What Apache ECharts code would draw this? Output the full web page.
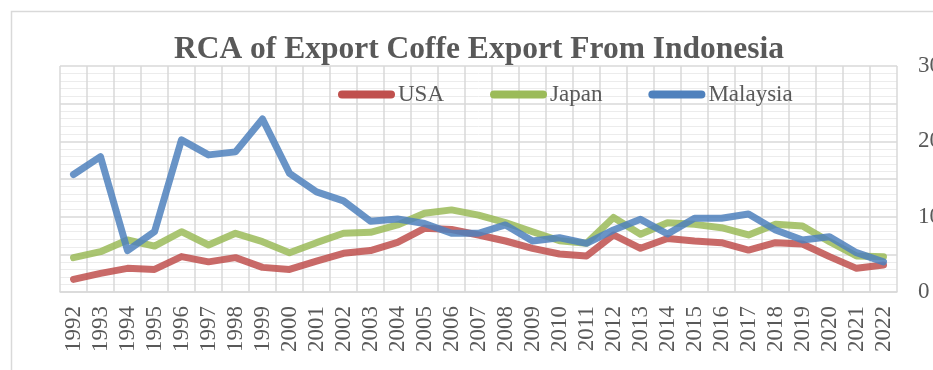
<!DOCTYPE html>
<html>
<head>
<meta charset="utf-8">
<script src="https://cdn.jsdelivr.net/npm/echarts@6/dist/echarts.min.js"></script>
<style>html,body{margin:0;padding:0;background:#fff;}#c{width:933px;height:370px;}</style>
</head>
<body>
<div id="c"></div>
<script>
const years = ['1992','1993','1994','1995','1996','1997','1998','1999','2000','2001','2002','2003','2004','2005','2006','2007','2008','2009','2010','2011','2012','2013','2014','2015','2016','2017','2018','2019','2020','2021','2022'];
const usa = [1.68,2.48,3.14,3.0,4.7,4.0,4.56,3.27,3.0,4.1,5.13,5.5,6.6,8.45,8.3,7.57,6.77,5.8,5.04,4.78,7.57,5.8,7.1,6.77,6.55,5.57,6.55,6.37,4.7,3.14,3.58];
const japan = [4.56,5.35,6.9,6.1,8.0,6.24,7.79,6.68,5.22,6.55,7.79,7.92,8.9,10.45,10.9,10.2,9.2,8.0,6.8,6.46,9.9,7.66,9.2,8.98,8.54,7.57,8.98,8.76,6.68,4.78,4.69];
const malaysia = [15.6,17.96,5.5,8.0,20.2,18.2,18.6,22.97,15.75,13.3,12.1,9.4,9.7,9.1,7.8,7.8,8.9,6.77,7.2,6.46,8.23,9.65,7.7,9.78,9.78,10.35,8.23,6.9,7.34,5.22,4.0];
const yTicks = [0, 10, 20, 30];

const chart = echarts.init(document.getElementById('c'));
const font = 'Liberation Serif, Times New Roman, serif';
const pill = 'path://M4,0 L53,0 A4,4 0 0 1 53,8 L4,8 A4,4 0 0 1 4,0 Z';
function mk(name, data, color) {
  return {
    name, type: 'line', data, symbol: 'none', smooth: false,
    lineStyle: { width: 7, color, opacity: 0.85, cap: 'round', join: 'round' },
    itemStyle: { color }
  };
}
chart.setOption({
  animation: false,
  graphic: [{
    type: 'rect', left: 9, top: 9, silent: true,
    shape: { width: 1000, height: 1000 },
    style: { fill: 'none', stroke: '#d9d9d9', lineWidth: 1.5 }
  }],
  title: {
    text: 'RCA of Export Coffe Export From Indonesia',
    left: 474, top: 29, textAlign: 'center',
    textStyle: { fontFamily: font, fontWeight: 'bold', fontSize: 31.5, color: '#595959' }
  },
  legend: {
    left: 333, top: 78,
    itemWidth: 57, itemHeight: 8, itemGap: 46,
    icon: pill,
    textStyle: { fontFamily: font, fontSize: 23, color: '#595959', padding: [0, 0, 0, -2] },
    data: ['USA', 'Japan', 'Malaysia']
  },
  grid: { left: 60, top: 66, width: 837, height: 226, containLabel: false, outerBoundsMode: 'none' },
  xAxis: {
    type: 'category', data: years, boundaryGap: true,
    axisLine: { lineStyle: { color: '#d9d9d9', width: 1.5 } },
    axisTick: { show: false },
    splitLine: { show: true, interval: 0, lineStyle: { color: '#d9d9d9', width: 1.5 } },
    axisLabel: { rotate: 90, interval: 0, margin: 14, fontFamily: font, fontSize: 23, color: '#595959' }
  },
  yAxis: {
    type: 'value', position: 'right', min: yTicks[0], max: yTicks[yTicks.length - 1], interval: 5,
    axisLine: { show: false }, axisTick: { show: false },
    splitLine: { lineStyle: { color: '#d9d9d9', width: 1.5 } },
    minorTick: { show: false, splitNumber: 5 },
    minorSplitLine: { show: true, lineStyle: { color: '#ececec', width: 1 } },
    axisLabel: {
      margin: 21, fontFamily: font, fontSize: 23, color: '#595959',
      formatter: v => (yTicks.indexOf(v) >= 0 ? String(v) : '')
    }
  },
  series: [mk('USA', usa, '#C0504D'), mk('Japan', japan, '#9BBB59'), mk('Malaysia', malaysia, '#4F81BD')]
});
</script>
</body>
</html>
